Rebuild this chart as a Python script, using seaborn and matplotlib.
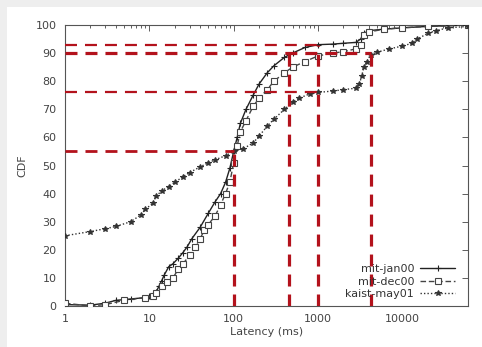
import numpy as np
import pandas as pd
import matplotlib
matplotlib.use("Agg")
import matplotlib.pyplot as plt
import seaborn as sns
from matplotlib.patches import Rectangle
from matplotlib.ticker import LogLocator, NullFormatter

# latency (ms) / CDF (%)
jan00_x = [1, 2, 3, 4, 6, 9, 10, 11, 12, 13, 14, 15, 17, 19, 22, 25, 28, 32, 40, 50, 60, 70,
           80, 90, 100, 110, 120, 140, 170, 200, 250, 300, 400, 500, 700, 1000, 1500, 2000,
           2800, 3200, 3500, 4000, 6000, 10000, 20000, 60000]
jan00_y = [0.5, 0.3, 1, 2, 2.5, 3, 3.5, 4, 5, 7, 9, 11, 14, 15, 17, 19, 21, 24, 28, 33, 37, 40,
           44, 49, 55, 60, 65, 70, 75, 79, 83, 85.5, 88.5, 90, 92, 93, 93.2, 93.5,
           93.8, 95, 97, 98, 98.5, 99, 99.5, 100]

dec00_x = [1, 2, 3, 5, 9, 11, 12, 14, 16, 19, 22, 25, 30, 35, 40, 45, 50, 60, 70, 80, 90,
           100, 110, 120, 140, 170, 200, 250, 300, 400, 500, 700, 1000, 1500, 2000, 2800,
           3200, 3500, 4000, 6000, 10000, 20000, 60000]
dec00_y = [1, 0, 0.5, 2, 3, 3.5, 4.5, 7, 8.5, 10, 13, 15, 18, 21, 24, 27, 29, 32, 36, 40, 44,
           51, 57, 62, 66, 71, 74, 77, 80, 83, 85, 87, 89, 90, 90.5, 91.5,
           93, 96.5, 97.5, 98.5, 99, 99.5, 100]

kaist_x = [1, 2, 3, 4, 6, 8, 9, 11, 12, 14, 17, 20, 25, 30, 40, 50, 60, 80, 100, 130, 170,
           200, 250, 300, 400, 500, 600, 800, 1000, 1500, 2000, 2800, 3100, 3300, 3500, 3800,
           4200, 5000, 7000, 10000, 13000, 15000, 20000, 25000, 35000, 60000]
kaist_y = [25, 26.5, 27.5, 28.3, 30, 32.5, 34.5, 36.5, 39, 41, 42.5, 44, 46, 47.5, 49.5, 51,
           52, 53.5, 55, 56, 58, 60.5, 64, 66.5, 70, 72.5, 74, 75.5, 76, 76.5, 77, 77.5, 79,
           82, 85, 87, 89.5, 90.3, 91.5, 92.5, 93.5, 95, 97, 98, 99, 99.5]

# reference guides: (x, y) pairs for dashed drop lines
guide_x = [100, 450, 1000, 4200]
guide_y = [55, 90, 93, 90]
level_76_x = 1000
level_76_y = 76

sns.set_style("white")
plt.rcParams["font.family"] = ["DejaVu Sans"]

fig = plt.figure(figsize=(4.82, 3.47), dpi=100)
fig.patch.set_facecolor("#eeeeee")
fig.add_artist(Rectangle((7 / 482, 0), 1, (347 - 7) / 347, transform=fig.transFigure,
                         facecolor="white", edgecolor="none", zorder=-10))
ax = fig.add_axes([65 / 482, 41 / 347, 403 / 482, 281 / 347])
ax.set_facecolor("white")

series = [
    ("mit-jan00", jan00_x, jan00_y, "-", "+", "#222222", "none"),
    ("mit-dec00", dec00_x, dec00_y, (0, (4, 2)), "s", "#444444", "white"),
    ("kaist-may01", kaist_x, kaist_y, (0, (1, 1.5)), "*", "#333333", "#333333"),
]
for name, xs, ys, ls, mk, col, mfc in series:
    df = pd.DataFrame({"x": xs, "y": ys})
    sns.lineplot(data=df, x="x", y="y", ax=ax, color=col, linestyle=ls, linewidth=1.0,
                 marker=mk, markersize=3.8, markerfacecolor=mfc, markeredgecolor=col,
                 markeredgewidth=0.8, label=name, sort=False, estimator=None, zorder=3)

red = "#b3121c"
thin = 1.6
thick = 2.3

def dashed(lw):
    return (0, (12 / 1.39 / lw, 8 / 1.39 / lw))

x0 = 1
# horizontal guides
ax.plot([x0, 100], [55, 55], color=red, lw=2.0, linestyle=dashed(2.0), zorder=4)
ax.plot([x0, 4200], [90, 90], color=red, lw=thick, linestyle=dashed(thick), zorder=4)
ax.plot([x0, 1000], [93, 93], color=red, lw=thin, linestyle=dashed(thin), zorder=4)
ax.plot([x0, level_76_x], [level_76_y, level_76_y], color=red, lw=thin,
        linestyle=dashed(thin), zorder=4)
# vertical guides
for gx, gy in zip(guide_x, guide_y):
    ax.plot([gx, gx], [0, gy], color=red, lw=thick, linestyle=dashed(thick), zorder=4)

ax.set_xscale("log")
ax.set_xlim(1, 60000)
ax.set_ylim(0, 100)
ax.set_xticks([1, 10, 100, 1000, 10000])
ax.set_xticklabels(["1", "10", "100", "1000", "10000"])
ax.xaxis.set_minor_locator(LogLocator(base=10, subs=np.arange(2, 10)))
ax.xaxis.set_minor_formatter(NullFormatter())
ax.set_yticks(np.arange(0, 101, 10))

ax.tick_params(which="both", direction="in", top=True, right=True, labelsize=8,
               colors="#444444", width=0.6)
ax.tick_params(which="major", length=4, pad=6)
ax.tick_params(which="minor", length=2)
for sp in ax.spines.values():
    sp.set_color("#555555")
    sp.set_linewidth(0.8)

ax.set_xlabel("Latency (ms)", fontsize=8, color="#444444", labelpad=2)
ax.set_ylabel("CDF", fontsize=8, color="#444444", labelpad=6)

leg = ax.legend(loc="lower right", bbox_to_anchor=(0.985, 0.0), frameon=False, fontsize=8,
                markerfirst=False, handlelength=3.2, labelspacing=0.25, borderaxespad=0.2,
                handletextpad=0.5)
for t in leg.get_texts():
    t.set_color("#333333")

fig.savefig("out.png", dpi=100, facecolor=fig.get_facecolor())
